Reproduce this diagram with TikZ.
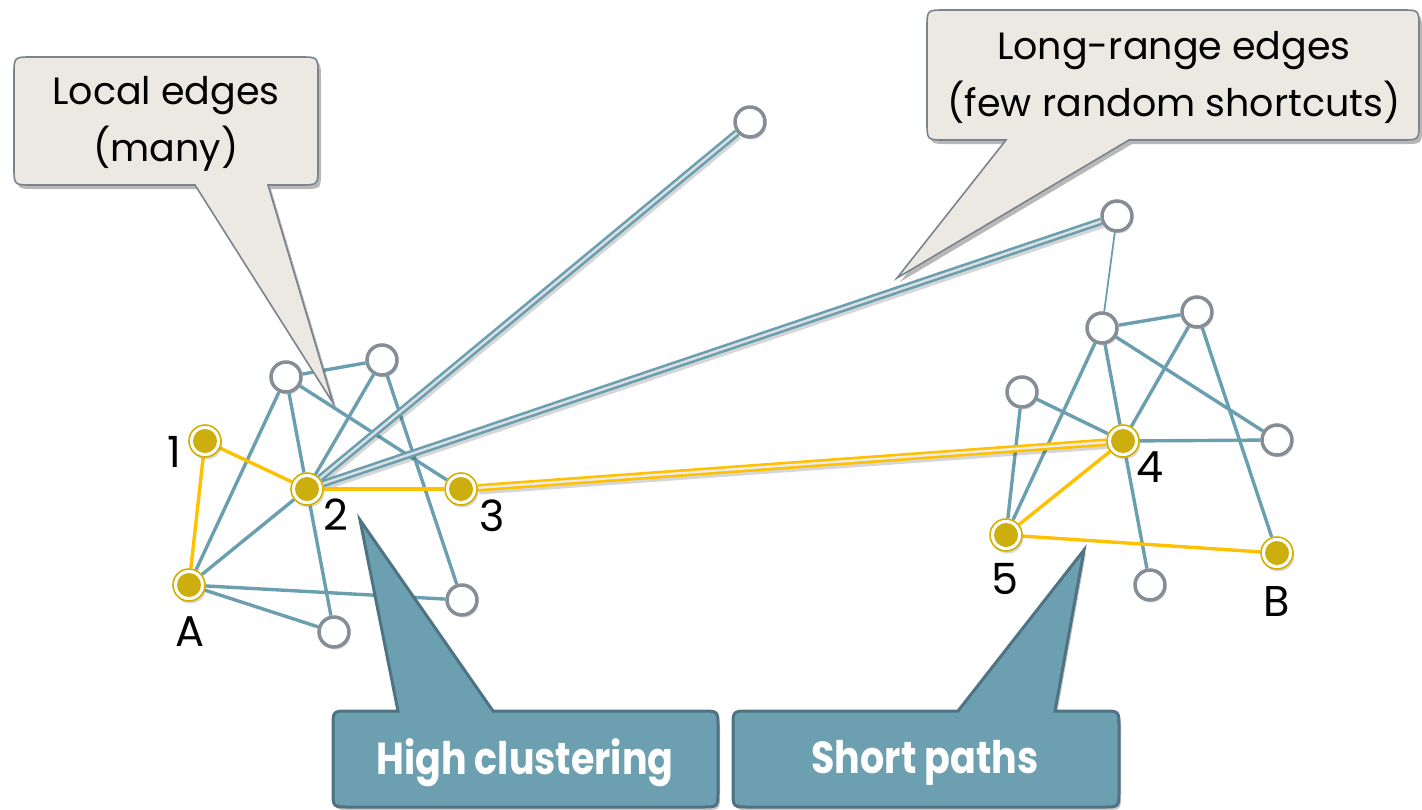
\documentclass[tikz,border=0pt]{standalone}
\usepackage{fontspec}
\setmainfont{Poppins}
\usetikzlibrary{shadows}

\definecolor{edgeteal}{HTML}{6A9FB0}
\definecolor{stripe}{HTML}{DCE0E3}
\definecolor{pathyellow}{HTML}{FFC000}
\definecolor{ringyellow}{HTML}{D2B000}
\definecolor{dotyellow}{HTML}{CCAE0E}
\definecolor{nodegray}{HTML}{858D97}
\definecolor{calloutgray}{HTML}{ECE9E3}
\definecolor{calloutline}{HTML}{7A848E}
\definecolor{calloutteal}{HTML}{6CA0B0}
\definecolor{callouttealline}{HTML}{4E7382}

\pgfdeclarelayer{edgelayer}
\pgfdeclarelayer{front}
\pgfsetlayers{edgelayer,main,front}

\begin{document}
\begin{tikzpicture}[x=1pt,y=-1pt,
  opennode/.style={circle, draw=nodegray, line width=3.5pt, fill=white,
    minimum size=30pt, inner sep=0pt,
    drop shadow={shadow xshift=1.5pt, shadow yshift=-2.5pt, opacity=0.3}},
  keynode/.style={circle, draw=ringyellow, line width=1.6pt, fill=white,
    minimum size=32pt, inner sep=0pt,
    path picture={\fill[dotyellow] (path picture bounding box.center) circle (12pt);},
    drop shadow={shadow xshift=1.5pt, shadow yshift=-2.5pt, opacity=0.3}},
  tedge/.style={draw=edgeteal, line width=3.4pt},
  thinedge/.style={draw=edgeteal, line width=1.8pt},
  yedge/.style={draw=pathyellow, line width=3.4pt},
  longedge/.style={draw=edgeteal, double=stripe, double distance=2.4pt, line width=2.6pt,
    preaction={draw=black, opacity=0.16, line width=7.5pt,
      transform canvas={shift={(1.5pt,-3pt)}}}},
  longyedge/.style={draw=pathyellow, double=white!92!black, double distance=2.4pt, line width=2.6pt,
    preaction={draw=black, opacity=0.16, line width=7.5pt,
      transform canvas={shift={(1.5pt,-3pt)}}}},
  numlabel/.style={font=\fontsize{43}{43}\selectfont, text=black, inner sep=0pt},
  graycallout/.style={fill=calloutgray, draw=calloutline, line width=1.6pt,
    preaction={fill=black, opacity=0.28, transform canvas={shift={(3pt,-4pt)}}}},
  tealcallout/.style={fill=calloutteal, draw=callouttealline, line width=3pt,
    preaction={fill=black, opacity=0.22, transform canvas={shift={(2pt,-3pt)}}}},
  calltext/.style={align=center, font=\fontsize{38}{57}\selectfont, text=black},
  boldtext/.style={font=\bfseries\fontsize{40}{40}\selectfont, text=white}
]
\useasboundingbox (0,0) rectangle (1422,809);

% ---- nodes of the left cluster ----
\node[keynode]  (n1)  at (205,441) {};
\node[keynode]  (n2)  at (307,489) {};
\node[keynode]  (n3)  at (461,489) {};
\node[keynode]  (nA)  at (189,585) {};
\node[opennode] (oTL) at (286,377) {};
\node[opennode] (oTR) at (382,360) {};
\node[opennode] (oBR) at (462,600) {};
\node[opennode] (oB)  at (334,632) {};

% ---- far endpoints of the shortcuts ----
\node[opennode] (far1) at (750,122) {};
\node[opennode] (far2) at (1117,216) {};

% ---- nodes of the right cluster ----
\node[opennode] (rTop) at (1102,328) {};
\node[opennode] (rTR)  at (1197,312) {};
\node[opennode] (rL)   at (1022,392) {};
\node[keynode]  (n4)   at (1123,441) {};
\node[opennode] (rR)   at (1277,440) {};
\node[keynode]  (n5)   at (1006,535) {};
\node[opennode] (rB)   at (1150,585) {};
\node[keynode]  (nB)   at (1277,553) {};

% ---- node labels ----
\node[numlabel] (l1) at (174,452) {1};
\node[numlabel] (l2) at (336,515) {2};
\node[numlabel] (l3) at (492,516) {3};
\node[numlabel] (lA) at (190,632) {A};
\node[numlabel] (l4) at (1150,467) {4};
\node[numlabel] (l5) at (1005,579) {5};
\node[numlabel] (lB) at (1277,602) {B};

% ---- edges, kept behind the nodes ----
\begin{pgfonlayer}{edgelayer}
  % local edges, left
  \draw[tedge] (oTL) -- (oTR);
  \draw[tedge] (oTL) -- (nA);
  \draw[tedge] (oTL) -- (n2);
  \draw[tedge] (oTL) -- (n3);
  \draw[tedge] (oTR) -- (n2);
  \draw[tedge] (oTR) -- (oBR);
  \draw[tedge] (n2) -- (nA);
  \draw[tedge] (n2) -- (oB);
  \draw[tedge] (nA) -- (oBR);
  \draw[tedge] (nA) -- (oB);
  % local edges, right
  \draw[thinedge] (far2) -- (rTop);
  \draw[tedge] (rTop) -- (rTR);
  \draw[tedge] (rTop) -- (n5);
  \draw[tedge] (rTop) -- (n4);
  \draw[tedge] (n4) -- (rB);
  \draw[tedge] (rTop) -- (rR);
  \draw[tedge] (rTR) -- (n4);
  \draw[tedge] (rTR) -- (nB);
  \draw[tedge] (rL) -- (n5);
  \draw[tedge] (rL) -- (n4);
  \draw[tedge] (n4) -- (rR);
  % shortcuts
  \draw[longedge] (n2) -- (far1);
  \draw[longedge] (n2) -- (far2);
  \draw[longyedge] (n3) -- (n4);
  % highlighted path
  \draw[yedge] (n1) -- (n2);
  \draw[yedge] (n1) -- (nA);
  \draw[yedge] (n2) -- (n3);
  \draw[yedge] (n4) -- (n5);
  \draw[yedge] (n5) -- (nB);
\end{pgfonlayer}

% ---- callouts on top ----
\begin{pgfonlayer}{front}
  \path[graycallout] (268,185) -- (333,403) -- (195,185) -- (32,185)
    .. controls (14,185) .. (14,167) -- (14,75)
    .. controls (14,57) .. (32,57) -- (300,57)
    .. controls (318,57) .. (318,75) -- (318,167)
    .. controls (318,185) .. (300,185) -- cycle;
  \node[calltext] (tlocal) at (166,124) {Local edges\\(many)};

  \path[graycallout] (1129,140) -- (897,278) -- (1006,140) -- (945,140)
    .. controls (927,140) .. (927,122) -- (927,28)
    .. controls (927,10) .. (945,10) -- (1402,10)
    .. controls (1419,10) .. (1419,28) -- (1419,122)
    .. controls (1419,140) .. (1402,140) -- cycle;
  \node[calltext] (tlong) at (1174,77) {Long-range edges\\(few random shortcuts)};

  \path[tealcallout] (398,711) -- (360,520) -- (493,711) -- (702,711)
    .. controls (718,711) .. (718,727) -- (718,791)
    .. controls (718,807) .. (702,807) -- (349,807)
    .. controls (333,807) .. (333,791) -- (333,727)
    .. controls (333,711) .. (349,711) -- cycle;
  \node[boldtext] (thigh) at (525,763) {\scalebox{0.95}[1.12]{High clustering}};

  \path[tealcallout] (958,711) -- (1084,550) -- (1055,711) -- (1103,711)
    .. controls (1119,711) .. (1119,727) -- (1119,791)
    .. controls (1119,807) .. (1103,807) -- (749,807)
    .. controls (733,807) .. (733,791) -- (733,727)
    .. controls (733,711) .. (749,711) -- cycle;
  \node[boldtext] (tshort) at (925,763) {\scalebox{0.95}[1.12]{Short paths}};
\end{pgfonlayer}
\end{tikzpicture}
\end{document}
